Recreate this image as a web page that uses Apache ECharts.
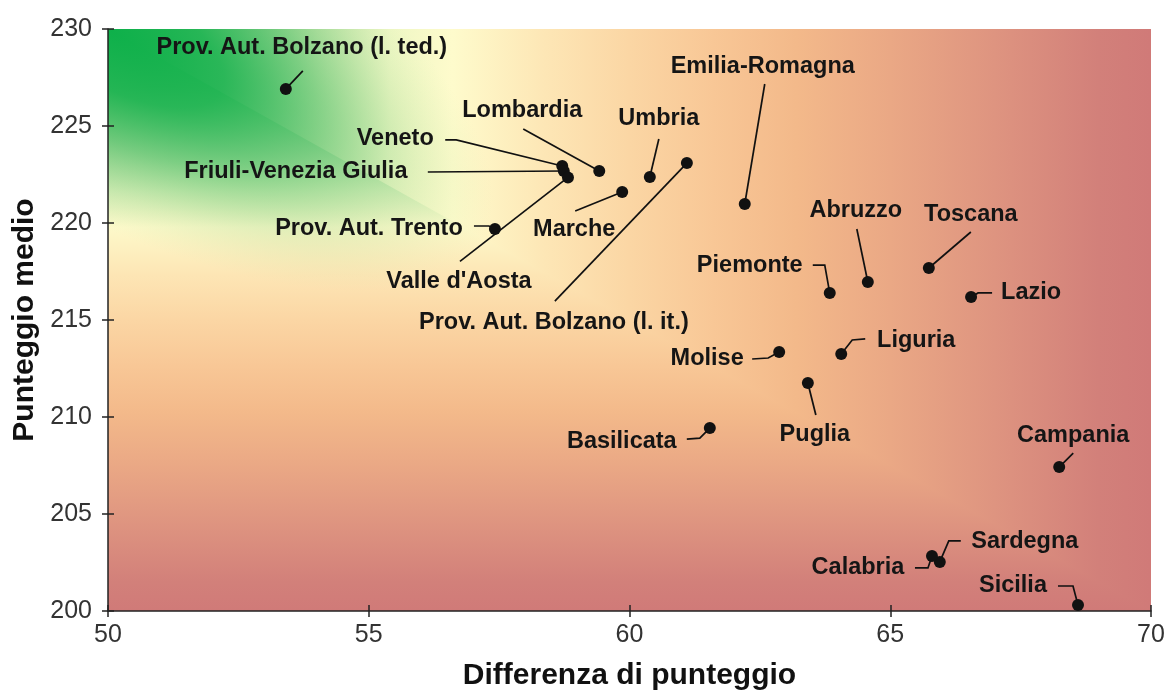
<!DOCTYPE html>
<html>
<head>
<meta charset="utf-8">
<script src="https://cdn.jsdelivr.net/npm/echarts@6/dist/echarts.min.js"></script>
<style>
html,body{margin:0;padding:0;background:#ffffff;}
#chart{width:1165px;height:692px;}
</style>
</head>
<body>
<div id="chart"></div>
<script>
// ---- data ----
const regions = [
  'Prov. Aut. Bolzano (l. ted.)', 'Emilia-Romagna', 'Lombardia', 'Umbria', 'Veneto',
  'Friuli-Venezia Giulia', "Valle d'Aosta", 'Prov. Aut. Trento', 'Marche',
  'Prov. Aut. Bolzano (l. it.)', 'Piemonte', 'Abruzzo', 'Toscana', 'Lazio', 'Liguria',
  'Molise', 'Puglia', 'Basilicata', 'Campania', 'Sardegna', 'Calabria', 'Sicilia'
];
const scoreDiff = [
  53.41, 62.21, 59.42, 60.39, 58.71,
  58.74, 58.82, 57.42, 59.86,
  61.10, 63.84, 64.57, 65.74, 66.55, 64.06,
  62.87, 63.42, 61.54, 68.24, 65.95, 65.80, 68.60
];
const meanScore = [
  226.91, 220.98, 222.68, 222.37, 222.94,
  222.68, 222.35, 219.69, 221.60,
  223.09, 216.39, 216.96, 217.68, 216.19, 213.25,
  213.35, 211.75, 209.43, 207.42, 202.53, 202.84, 200.31
];
const xTicks = { min: 50, max: 70, step: 5 };
const yTicks = { min: 200, max: 230, step: 5 };
const xName = 'Differenza di punteggio';
const yName = 'Punteggio medio';

// ---- label layout: pixel offsets relative to each point (styling, not data) ----
const labelOffsets = [
  [16, -41], [18, -137], [-77, -60], [9, -59], [-167, -27],
  [-268, 1], [-109, 104], [-126, 0], [-48, 38],
  [-133, 159], [-80, -28], [-12, -71], [42, -53], [60, -4], [75, -13],
  [-72, 7], [7, 51], [-88, 13], [14, -32], [85, -20], [-74, 12], [-65, -19]
];
const leaderPaths = [
  [[0, 0], [17, -18]],
  [[0, 0], [20, -120]],
  [[0, 0], [-76, -42]],
  [[0, 0], [9, -38]],
  [[0, 0], [-106, -26], [-117, -26]],
  [[0, 0], [-136, 1]],
  [[0, 0], [-108, 84]],
  [[0, 0], [-6, -3], [-21, -3]],
  [[0, 0], [-47, 19]],
  [[0, 0], [-132, 138]],
  [[0, 0], [-5, -28], [-17, -28]],
  [[0, 0], [-11, -53]],
  [[0, 0], [42, -36]],
  [[0, 0], [7, -4], [21, -4]],
  [[0, 0], [11, -14], [24, -15]],
  [[0, 0], [-11, 6], [-27, 7]],
  [[0, 0], [8, 32]],
  [[0, 0], [-10, 10], [-23, 11]],
  [[0, 0], [14, -14]],
  [[0, 0], [9, -21], [21, -21]],
  [[0, 0], [-4, 12], [-17, 12]],
  [[0, 0], [-5, -19], [-20, -19]]
];

const points = scoreDiff.map((x, i) => [x, meanScore[i]]);

const FONT = '"Liberation Sans", Arial, sans-serif';
const AX = '#222222';

const chart = echarts.init(document.getElementById('chart'), null, { renderer: 'canvas' });

function axisCommon(t) {
  return { type: 'value', min: t.min, max: t.max, interval: t.step, splitLine: { show: false } };
}

const option = {
  backgroundColor: '#ffffff',
  animation: false,
  grid: { left: 108, right: 14, top: 29, bottom: 81, containLabel: false, outerBoundsMode: 'none' },
  xAxis: [
    Object.assign(axisCommon(xTicks), {
      position: 'bottom',
      name: xName, nameLocation: 'middle', nameGap: 50,
      nameTextStyle: { fontFamily: FONT, fontSize: 30, fontWeight: 'bold', color: '#111' },
      axisLine: { show: true, lineStyle: { color: AX, width: 1.5 } },
      axisTick: { show: true, inside: false, length: 6, lineStyle: { color: AX, width: 1.5 } },
      axisLabel: { fontFamily: FONT, fontSize: 25, color: '#333', margin: 12 }
    }),
    Object.assign(axisCommon(xTicks), {
      position: 'bottom',
      axisLine: { show: false },
      axisTick: { show: true, inside: true, length: 6, lineStyle: { color: AX, width: 1.5 } },
      axisLabel: { show: false }
    })
  ],
  yAxis: [
    Object.assign(axisCommon(yTicks), {
      position: 'left',
      name: yName, nameLocation: 'middle', nameGap: 66, nameRotate: 90,
      nameTextStyle: { fontFamily: FONT, fontSize: 30, fontWeight: 'bold', color: '#111' },
      axisLine: { show: true, lineStyle: { color: AX, width: 1.5 } },
      axisTick: { show: true, inside: false, length: 6, lineStyle: { color: AX, width: 1.5 } },
      axisLabel: { fontFamily: FONT, fontSize: 25, color: '#333', margin: 16 }
    }),
    Object.assign(axisCommon(yTicks), {
      position: 'left',
      axisLine: { show: false },
      axisTick: { show: true, inside: true, length: 6, lineStyle: { color: AX, width: 1.5 } },
      axisLabel: { show: false }
    })
  ],
  series: [
    {
      type: 'custom',
      xAxisIndex: 0, yAxisIndex: 0,
      z: 8,
      silent: true,
      clip: false,
      data: points,
      renderItem: function (params, api) {
        const i = params.dataIndex;
        const pt = api.coord([api.value(0), api.value(1)]);
        const leader = leaderPaths[i].map(d => [pt[0] + d[0], pt[1] + d[1]]);
        const o = labelOffsets[i];
        return {
          type: 'group',
          children: [
            {
              type: 'polyline',
              shape: { points: leader },
              style: { stroke: '#111111', lineWidth: 1.7, fill: null }
            },
            {
              type: 'text',
              x: pt[0] + o[0], y: pt[1] + o[1],
              style: {
                text: regions[i],
                fontFamily: FONT, fontSize: 23.5, fontWeight: 'bold',
                fill: '#151515', align: 'center', verticalAlign: 'middle'
              }
            }
          ]
        };
      }
    },
    {
      type: 'scatter',
      xAxisIndex: 0, yAxisIndex: 0,
      z: 10,
      symbol: 'circle',
      symbolSize: 12,
      itemStyle: { color: '#111111', opacity: 1 },
      clip: false,
      silent: true,
      data: points,
      emphasis: { disabled: true }
    }
  ]
};

chart.setOption(option);

// Background: "from corner" gradient (colour depends on max of normalised x / y distance)
const p0 = chart.convertToPixel({ gridIndex: 0 }, [xTicks.min, yTicks.max]);
const p1 = chart.convertToPixel({ gridIndex: 0 }, [xTicks.max, yTicks.min]);
const W = p1[0] - p0[0], H = p1[1] - p0[1];

const warmStops = [
  [0.42, '#fde6b5'], [0.5, '#fbd6a4'], [0.58, '#f8c796'], [0.66, '#f3b98a'], [0.75, '#eaa885'],
  [0.85, '#de9480'], [0.95, '#d2807a'], [1, '#d07a78']
];
const hStops = [
  [0, '#0db14b'], [0.05, '#2fb75a'], [0.12, '#6cc77a'], [0.2, '#b8e2a4'],
  [0.27, '#eef7c4'], [0.33, '#fefbcc']
].concat(warmStops);
const vStops = [
  [0, '#0db14b'], [0.1, '#3cba5e'], [0.2, '#96d592'], [0.28, '#d4edb6'],
  [0.34, '#fdf9ca']
].concat(warmStops);
const toStops = s => s.map(a => ({ offset: a[0], color: a[1] }));

// green streak along the corner diagonal (elliptical glow, clipped to plot quadrant)
const phi = Math.atan2(H, W);
const s = 0.42;          // minor/major ratio of the glow
const R = 430;           // major radius in px
const a1 = Math.atan2(-Math.sin(phi) / s, Math.cos(phi));
const a2 = Math.atan2(Math.cos(phi) / s, Math.sin(phi));

chart.setOption({
  graphic: [
    {
      type: 'rect', z: -10, silent: true,
      shape: { x: p0[0], y: p0[1], width: W, height: H },
      style: { fill: new echarts.graphic.LinearGradient(0, 0, 1, 0, toStops(hStops)) }
    },
    {
      type: 'polygon', z: -9, silent: true,
      shape: { points: [[p0[0], p0[1]], [p0[0], p1[1]], [p1[0], p1[1]]] },
      style: { fill: new echarts.graphic.LinearGradient(0, 0, 0, 1, toStops(vStops)) }
    },
    {
      type: 'sector', z: -8, silent: true,
      x: p0[0], y: p0[1], rotation: -phi, scaleX: 1, scaleY: s,
      shape: { cx: 0, cy: 0, r0: 0, r: R, startAngle: a1, endAngle: a2, clockwise: true },
      style: {
        fill: new echarts.graphic.RadialGradient(0, 0, R, [
          { offset: 0, color: 'rgba(14,176,74,0.95)' },
          { offset: 0.3, color: 'rgba(30,180,82,0.82)' },
          { offset: 0.55, color: 'rgba(80,192,105,0.5)' },
          { offset: 0.8, color: 'rgba(150,212,140,0.2)' },
          { offset: 1, color: 'rgba(200,232,170,0)' }
        ], true)
      }
    }
  ]
});
</script>
</body>
</html>
